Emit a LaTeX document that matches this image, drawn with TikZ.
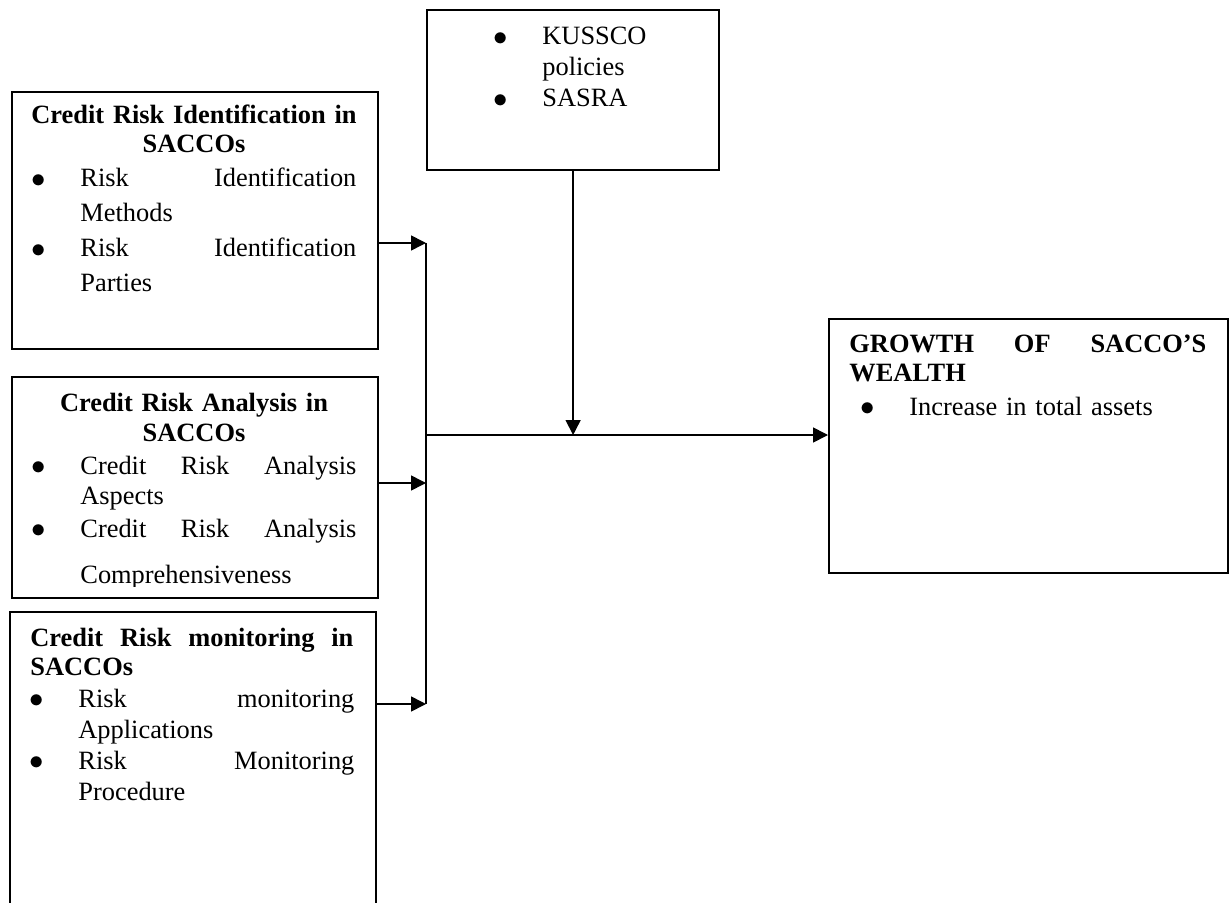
\documentclass[tikz,border=0pt]{standalone}
\usepackage{fontspec}
\setmainfont{Liberation Serif}
\usetikzlibrary{arrows.meta}
\newcommand{\bul}{\leavevmode\llap{\smash{\raisebox{-0.4pt}{\fontsize{15pt}{15pt}\selectfont$\bullet$}}\hspace{17.5pt}}}
\newcommand{\fillgap}{\hskip 0pt plus 1filll\relax}

\begin{document}
\begin{tikzpicture}[
    x=0.5pt, y=-0.5pt,
    frame/.style={draw, line width=1.1pt, anchor=north west, inner sep=0pt},
    head/.style={anchor=base, align=center, inner sep=0pt, font=\fontsize{13.2pt}{14.5pt}\selectfont\bfseries},
    items/.style={anchor=base west, align=left, inner sep=0pt, font=\fontsize{13.2pt}{15.5pt}\selectfont},
    link/.style={-{Triangle[length=7.5pt,width=7.5pt]}, line width=0.8pt},
    bus/.style={line width=0.8pt}
]
\useasboundingbox (0,0) rectangle (1229,903);

% boxes
\node[frame, minimum width=183pt, minimum height=128.5pt] (ident) at (11,91) {};
\node[frame, minimum width=183pt, minimum height=110.5pt] (analysis) at (11,376) {};
\node[frame, minimum width=183pt, minimum height=150pt] (monitor) at (9,611) {};
\node[frame, minimum width=146pt, minimum height=80pt] (kussco) at (426,9) {};
\node[frame, minimum width=199.5pt, minimum height=127pt] (growth) at (828,318) {};

% texts
\node[head, text width=183pt] (identhead) at (194,124) {Credit Risk Identification in\\SACCOs};
\node[items, text width=138pt, font=\fontsize{13.2pt}{17.5pt}\selectfont] (identlist) at (80,187)
    {\bul Risk\fillgap Identification\\ Methods\\ \bul Risk\fillgap Identification\\ Parties};

\node[head, text width=183pt, font=\fontsize{13.2pt}{15.25pt}\selectfont\bfseries] (analysishead) at (194,411) {Credit Risk Analysis in\\SACCOs};
\begin{scope}
\clip (0,0) rectangle (1229,586);
\node[items, text width=138pt, font=\fontsize{13.2pt}{15pt}\selectfont] (analysislist) at (80,474)
    {\bul Credit\fillgap Risk\fillgap Analysis\\ Aspects\\[1.5pt] \bul Credit\fillgap Risk\fillgap Analysis\\[8pt] Comprehensiveness};
\end{scope}

\node[head, anchor=base west, align=left, text width=161.5pt] (monitorhead) at (30,646) {Credit\fillgap Risk\fillgap monitoring\fillgap in\\SACCOs};
\node[items, text width=138pt] (monitorlist) at (78,707)
    {\bul Risk\fillgap monitoring\\ Applications\\ \bul Risk\fillgap Monitoring\\ Procedure};

\node[items, text width=80pt] (kussolist) at (542,45) {\bul KUSSCO\\ policies\\ \bul SASRA};

\node[head, anchor=base west, align=left, text width=178.5pt] (growthhead) at (849,352) {GROWTH\fillgap OF\fillgap SACCO’S\\WEALTH};
\node[items, text width=150pt] (growthlist) at (909,415) {\bul Increase in total assets};

% connectors
\coordinate (busA) at (426,243);
\coordinate (busB) at (426,483);
\coordinate (busC) at (426,704);
\coordinate (join) at (426,435);
\draw[bus] (busA) -- (busC);
\draw[link] (ident.east |- busA) -- (busA);
\draw[link] (analysis.east |- busB) -- (busB);
\draw[link] (monitor.east |- busC) -- (busC);
\draw[link] (kussco.south) -- (kussco.south |- join);
\draw[link] (join) -- (growth.west |- join);

\end{tikzpicture}
\end{document}
